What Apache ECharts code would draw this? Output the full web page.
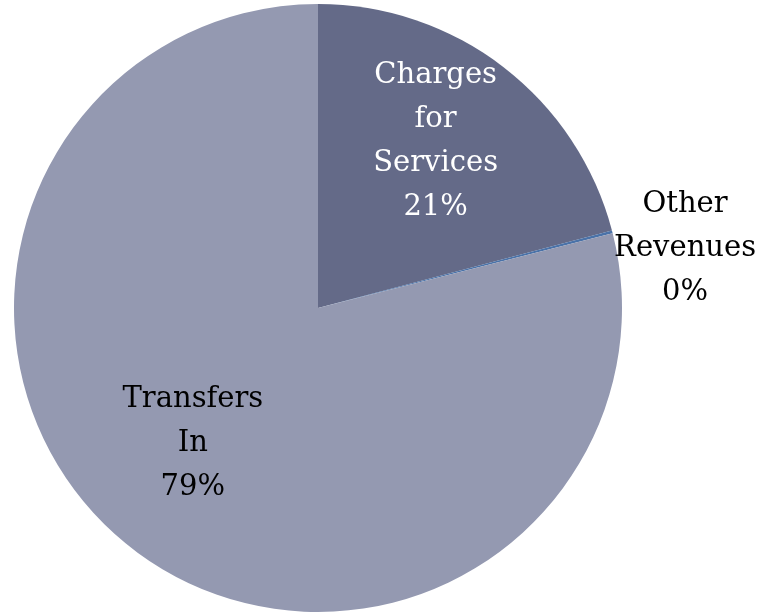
<!DOCTYPE html>
<html>
<head>
<meta charset="utf-8">
<script src="https://cdn.jsdelivr.net/npm/echarts@6/dist/echarts.min.js"></script>
<style>
html, body { margin: 0; padding: 0; background: #fff; }
#main { width: 759px; height: 614px; }
</style>
</head>
<body>
<div id="main"></div>
<script>
var names = ['Charges\nfor\nServices', 'Other\nRevenues', 'Transfers\nIn'];
var values = [20.9, 0.15, 78.95];
var colors = ['#646a88', '#4a72a8', '#9499b1'];

// all labels are placed "inside" and nudged; the small one is pushed out past the edge
var labelCfg = [
	{ color: '#fff', offset: [23, -44] },
	{ color: '#000', offset: [217, -21] },
	{ color: '#000', offset: [-30, 13] }
];

var data = [];
for (var i = 0; i < names.length; i++) {
	data.push({
		name: names[i],
		value: values[i],
		itemStyle: { color: colors[i] },
		label: labelCfg[i]
	});
}

var myChart = echarts.init(document.getElementById('main'));
var option = {
	animation: false,
	series: [
		{
			type: 'pie',
			center: [318, 308],
			radius: 304,
			startAngle: 90,
			clockwise: true,
			data: data,
			label: {
				show: true,
				position: 'inside',
				fontFamily: 'DejaVu Serif',
				fontSize: 29,
				lineHeight: 44,
				align: 'center',
				overflow: 'none',
				formatter: function (p) {
					return p.name + '\n' + Math.round(p.percent) + '%';
				}
			},
			labelLine: { show: false },
			emphasis: { disabled: true }
		}
	]
};
myChart.setOption(option);
</script>
</body>
</html>
